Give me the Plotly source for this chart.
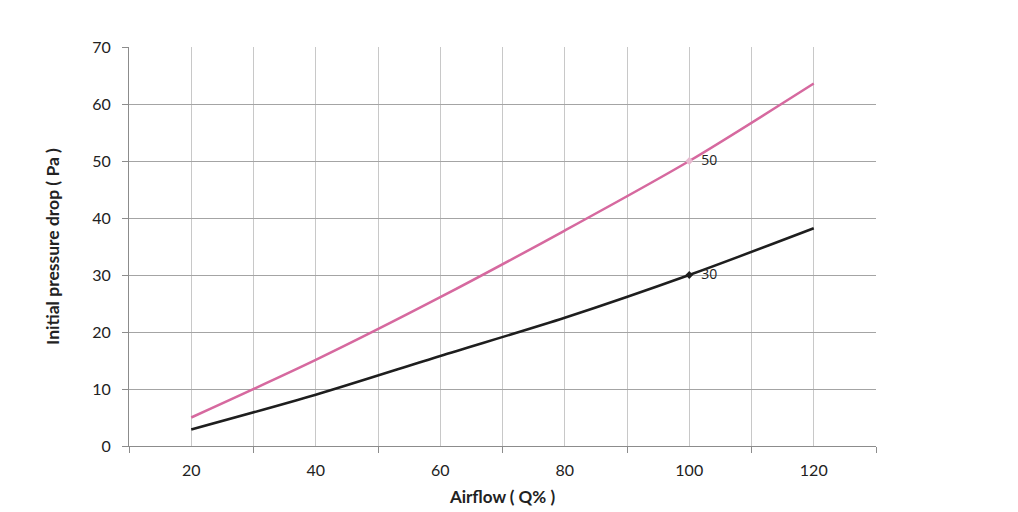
import plotly.graph_objects as go

# airflow in % of nominal
airflow = [20, 40, 60, 80, 100, 120]
# initial pressure drop [Pa] for the two filter classes
drop_50 = [5.0, 15.1, 26.1, 37.8, 50.0, 63.6]
drop_30 = [2.9, 9.0, 15.8, 22.5, 30.0, 38.2]

label_x = [100]
label_50 = [50]
label_30 = [30]

PINK = "#d6699f"
DARK = "#1e1e1e"
FONT = "Lato"

fig = go.Figure()

fig.add_trace(
    go.Scatter(
        x=airflow,
        y=drop_50,
        mode="lines",
        line=dict(color=PINK, width=2.5, shape="spline", smoothing=0.8),
        name="50",
    )
)
fig.add_trace(
    go.Scatter(
        x=airflow,
        y=drop_30,
        mode="lines",
        line=dict(color=DARK, width=2.5, shape="spline", smoothing=0.8),
        name="30",
    )
)

# point labels at 100 %
fig.add_trace(
    go.Scatter(
        x=label_x,
        y=label_50,
        mode="markers+text",
        marker=dict(symbol="diamond", size=6, color="#e7b9cf"),
        text=["  " + str(v) for v in label_50],
        textposition="middle right",
        textfont=dict(family="Open Sans", size=14, color="#222222"),
    )
)
fig.add_trace(
    go.Scatter(
        x=label_x,
        y=label_30,
        mode="markers+text",
        marker=dict(symbol="diamond", size=6, color=DARK),
        text=["  " + str(v) for v in label_30],
        textposition="middle right",
        textfont=dict(family="Open Sans", size=14, color="#222222"),
    )
)

fig.update_xaxes(
    range=[10, 130],
    tickvals=[20, 40, 60, 80, 100, 120],
    ticks="",
    ticklabelstandoff=10,
    showgrid=True,
    gridcolor="#c8c8c8",
    gridwidth=1,
    minor=dict(
        tick0=10,
        dtick=20,
        ticks="outside",
        ticklen=6,
        tickcolor="#8c8c8c",
        showgrid=True,
        gridcolor="#c8c8c8",
        gridwidth=1,
    ),
    showline=True,
    linecolor="#8c8c8c",
    linewidth=1,
    zeroline=False,
    tickfont=dict(family=FONT, size=16, color="#222222"),
    title=dict(
        text="<b>Airflow ( Q% )</b>",
        font=dict(family=FONT, size=17, color="#222222"),
        standoff=12,
    ),
)
fig.update_yaxes(
    range=[0, 70],
    dtick=10,
    ticks="outside",
    ticklen=6,
    tickcolor="#8c8c8c",
    ticklabelstandoff=8,
    showgrid=True,
    gridcolor="#a4a4a4",
    gridwidth=1,
    showline=True,
    linecolor="#8c8c8c",
    linewidth=1,
    zeroline=False,
    tickfont=dict(family=FONT, size=16, color="#222222"),
    title=dict(
        text="<b>Initial pressure drop ( Pa )</b>",
        font=dict(family=FONT, size=17.5, color="#222222"),
        standoff=28,
    ),
)

fig.update_layout(
    width=1018,
    height=512,
    autosize=False,
    showlegend=False,
    plot_bgcolor="white",
    paper_bgcolor="white",
    margin={"l": 121, "r": 150, "t": 39, "b": 74},
)

fig.write_html("out.html")
